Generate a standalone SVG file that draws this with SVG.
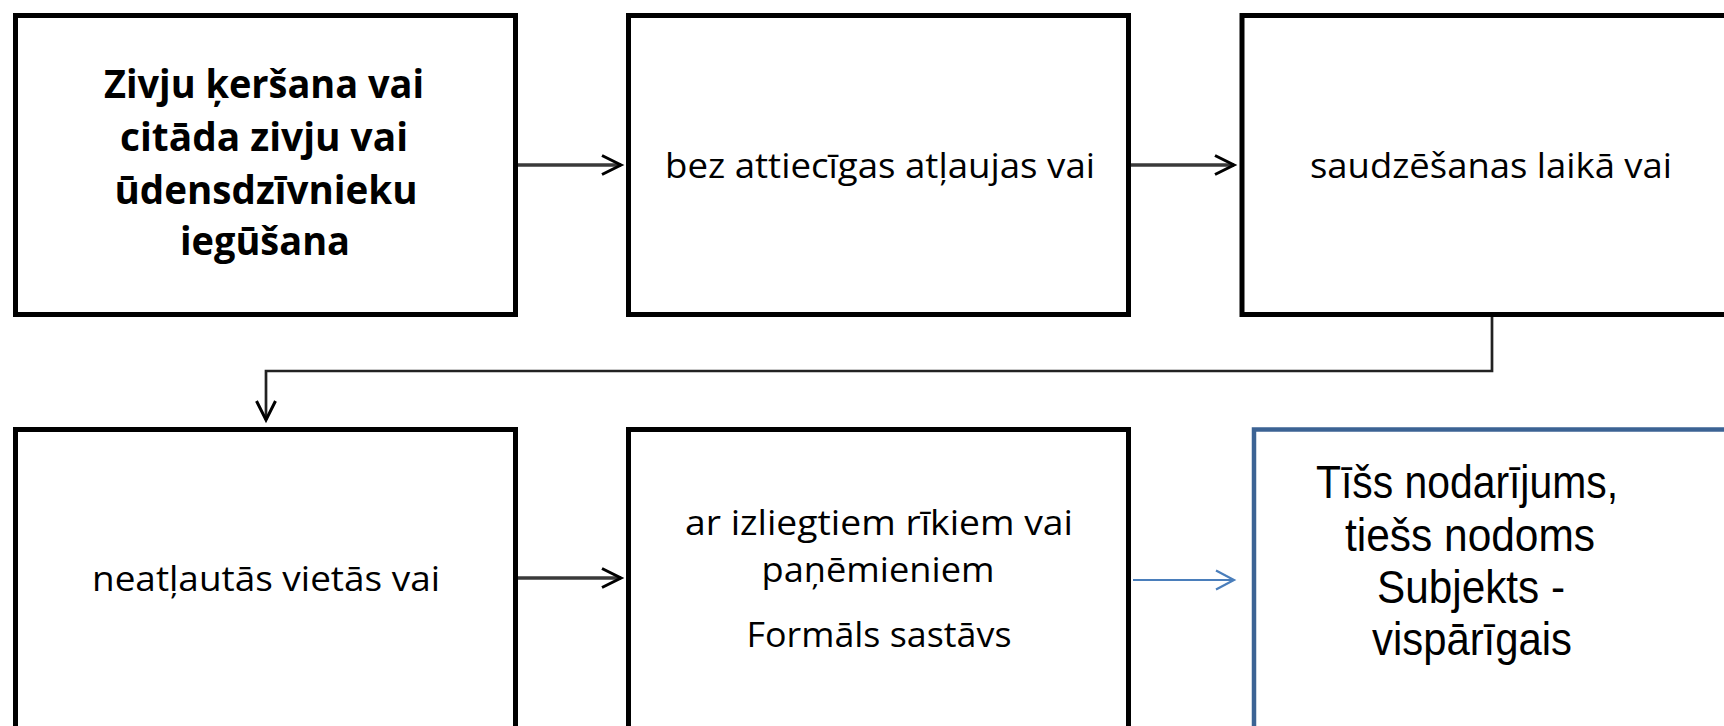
<svg xmlns="http://www.w3.org/2000/svg" width="1724" height="726" viewBox="0 0 1724 726">
<style>
.box{fill:#fff;stroke:#000;stroke-width:5}
.blue{fill:#fff;stroke:#3c6394;stroke-width:4.5}
.t{font-family:"Open Sans","Liberation Sans",sans-serif;font-size:34px;fill:#000;text-anchor:middle}
.tb{font-family:"Open Sans","Liberation Sans",sans-serif;font-size:40px;font-weight:bold;fill:#000;text-anchor:middle}
.ta{font-family:"Liberation Sans",Arial,sans-serif;font-size:46px;fill:#000;text-anchor:middle}
.c{fill:none;stroke:#3a3a3a;stroke-width:3.5}
.c2{fill:none;stroke:#222;stroke-width:2.7}
.cb{fill:none;stroke:#4a7ebb;stroke-width:2.2}
</style>
<defs>
<marker id="ah" markerUnits="userSpaceOnUse" viewBox="0 0 24 24" refX="21" refY="12" markerWidth="24" markerHeight="24" orient="auto" overflow="visible">
<path d="M2,2.5 L21,12 L2,21.5" fill="none" stroke="#000" stroke-width="3"/>
</marker>
<marker id="ahb" markerUnits="userSpaceOnUse" viewBox="0 0 24 24" refX="21" refY="12" markerWidth="24" markerHeight="24" orient="auto" overflow="visible">
<path d="M3,2.5 L21,12 L3,21.5" fill="none" stroke="#4a7ebb" stroke-width="2.2"/>
</marker>
</defs>
<rect width="1724" height="726" fill="#fff"/>
<g id="connectors">
<line class="c" x1="516" y1="165" x2="621" y2="165" marker-end="url(#ah)"/>
<line class="c" x1="1129" y1="165" x2="1234" y2="165" marker-end="url(#ah)"/>
<polyline class="c2" points="1492,316 1492,371 266,371 266,420" marker-end="url(#ah)"/>
<line class="c" x1="516" y1="578" x2="621" y2="578" marker-end="url(#ah)"/>
<line class="cb" x1="1133" y1="580" x2="1234" y2="580" marker-end="url(#ahb)"/>
</g>
<g id="node1">
<rect class="box" x="15.5" y="15.5" width="500" height="299"/>
<text class="tb" x="264" y="98" textLength="320" lengthAdjust="spacingAndGlyphs">Zivju ķeršana vai</text>
<text class="tb" x="264" y="151" textLength="288" lengthAdjust="spacingAndGlyphs">citāda zivju vai</text>
<text class="tb" x="266" y="204" textLength="303" lengthAdjust="spacingAndGlyphs">ūdensdzīvnieku</text>
<text class="tb" x="265" y="255" textLength="170" lengthAdjust="spacingAndGlyphs">iegūšana</text>
</g>
<g id="node2">
<rect class="box" x="628.5" y="15.5" width="500" height="299"/>
<text class="t" x="880" y="178" textLength="430" lengthAdjust="spacingAndGlyphs">bez attiecīgas atļaujas vai</text>
</g>
<g id="node3">
<rect class="box" x="1242" y="15.5" width="500" height="299"/>
<text class="t" x="1491" y="178" textLength="362" lengthAdjust="spacingAndGlyphs">saudzēšanas laikā vai</text>
</g>
<g id="node4">
<rect class="box" x="15.5" y="429.5" width="500" height="300"/>
<text class="t" x="266" y="591" textLength="348" lengthAdjust="spacingAndGlyphs">neatļautās vietās vai</text>
</g>
<g id="node5">
<rect class="box" x="628.5" y="429.5" width="500" height="300"/>
<text class="t" x="879" y="535" textLength="388" lengthAdjust="spacingAndGlyphs">ar izliegtiem rīkiem vai</text>
<text class="t" x="878" y="582" textLength="233" lengthAdjust="spacingAndGlyphs">paņēmieniem</text>
<text class="t" x="879" y="647" textLength="265" lengthAdjust="spacingAndGlyphs">Formāls sastāvs</text>
</g>
<g id="node6">
<rect class="blue" x="1254" y="429.5" width="500" height="300"/>
<text class="ta" x="1467" y="498" textLength="302" lengthAdjust="spacingAndGlyphs">Tīšs nodarījums,</text>
<text class="ta" x="1470" y="551" textLength="250" lengthAdjust="spacingAndGlyphs">tiešs nodoms</text>
<text class="ta" x="1471" y="603" textLength="188" lengthAdjust="spacingAndGlyphs">Subjekts -</text>
<text class="ta" x="1472" y="655" textLength="200" lengthAdjust="spacingAndGlyphs">vispārīgais</text>
</g>
</svg>
